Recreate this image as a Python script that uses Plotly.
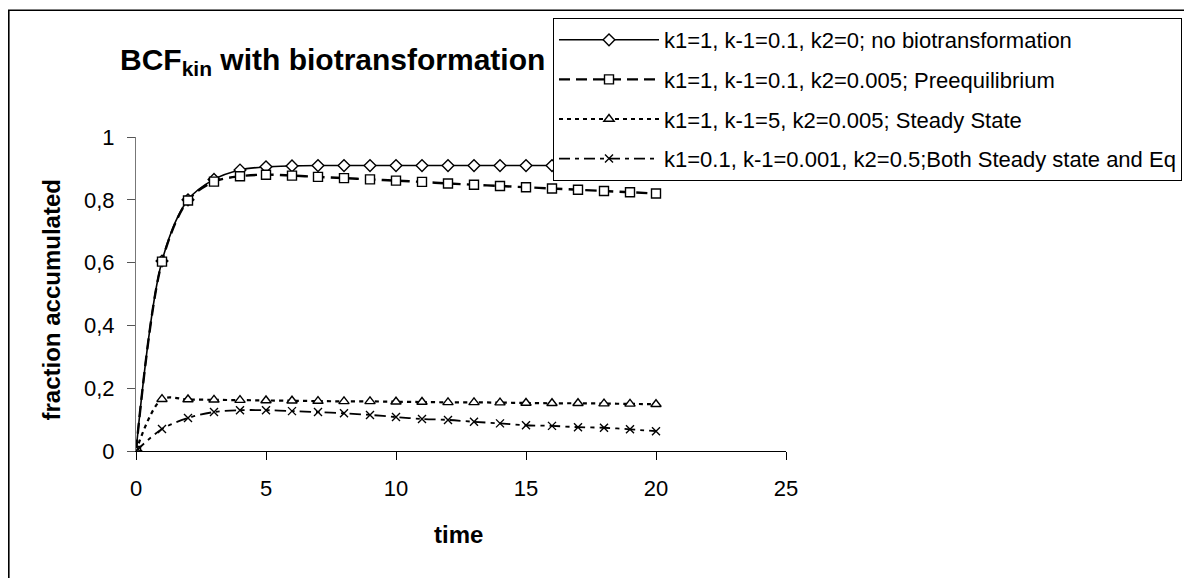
import plotly.graph_objects as go

time = list(range(0, 21))

s1_name = "k1=1, k-1=0.1, k2=0; no biotransformation"
s1 = [0, 0.605, 0.800, 0.865, 0.895, 0.905, 0.908, 0.909, 0.909, 0.909, 0.909,
      0.909, 0.909, 0.909, 0.909, 0.909, 0.909, 0.909, 0.909, 0.909, 0.909]

s2_name = "k1=1, k-1=0.1, k2=0.005; Preequilibrium"
s2 = [0, 0.603, 0.798, 0.858, 0.875, 0.880, 0.877, 0.873, 0.869, 0.865, 0.861,
      0.857, 0.852, 0.848, 0.844, 0.840, 0.836, 0.832, 0.828, 0.824, 0.820]

s3_name = "k1=1, k-1=5, k2=0.005; Steady State"
s3 = [0, 0.165, 0.164, 0.163, 0.162, 0.161, 0.160, 0.159, 0.158, 0.158, 0.157,
      0.156, 0.155, 0.155, 0.154, 0.153, 0.152, 0.152, 0.151, 0.150, 0.149]

s4_name = "k1=0.1, k-1=0.001, k2=0.5;Both Steady state and Eq"
s4 = [0, 0.070, 0.105, 0.124, 0.130, 0.130, 0.127, 0.124, 0.120, 0.115, 0.108,
      0.102, 0.099, 0.093, 0.088, 0.082, 0.080, 0.076, 0.074, 0.069, 0.063]

x_ticks = [0, 5, 10, 15, 20, 25]
y_ticks = [0, 0.2, 0.4, 0.6, 0.8, 1]

FONT = "Arial, 'Liberation Sans', sans-serif"

series = [
    (s1_name, s1, "solid", 1.6, "diamond", 9),
    (s2_name, s2, "11px,6px", 2.4, "square", 9),
    (s3_name, s3, "4px,4px", 2.2, "triangle-up", 9),
    (s4_name, s4, "11px,5px,4px,5px", 1.8, "x-thin", 8),
]

fig = go.Figure()
for i, (name, vals, dash, w, sym, size) in enumerate(series):
    fig.add_trace(go.Scatter(
        x=time, y=vals, name=name, mode="lines+markers",
        legendgroup=f"g{i}",
        line=dict(color="black", width=w, dash=dash, shape="spline", smoothing=0.9),
        marker=dict(symbol=sym, size=size, color="white",
                    line=dict(color="black", width=1.4)),
    ))

# plot area in figure pixels
L, X25, TOP, Y0 = 128, 778, 128, 443
W, H = X25 - L, Y0 - TOP


def px(fx):
    return (fx - L) / W


def py(fy):
    return (Y0 - fy) / H


fig.update_layout(
    width=1192, height=578,
    margin=dict(l=L, r=1192 - X25, t=TOP, b=578 - Y0),
    paper_bgcolor="white", plot_bgcolor="white",
    separators=", ",
    font=dict(family=FONT, color="black", size=22),
    showlegend=True,
    legend=dict(
        x=px(545), y=py(10), xanchor="left", yanchor="top",
        bgcolor="white", bordercolor="black", borderwidth=1,
        font=dict(family=FONT, size=22, color="black"),
        tracegroupgap=8, itemwidth=100,
    ),
    xaxis=dict(
        range=[0, 25], tickvals=x_ticks, showgrid=False, zeroline=False,
        showline=True, linecolor="black", linewidth=1.2,
        ticks="outside", ticklen=8, tickcolor="black",
        tickfont=dict(family=FONT, size=22), ticklabelstandoff=9,
    ),
    yaxis=dict(
        range=[0, 1], tickvals=y_ticks, showgrid=False, zeroline=False,
        showline=True, linecolor="#777777", linewidth=1.2,
        ticks="outside", ticklen=8, tickcolor="#555555",
        tickfont=dict(family=FONT, size=22), ticklabelstandoff=8,
    ),
)

fig.add_annotation(
    text="<b>fraction accumulated</b>", xref="paper", yref="paper",
    x=px(43), y=py(292), xanchor="center", yanchor="middle", textangle=-90,
    showarrow=False, font=dict(family=FONT, size=24),
)
fig.add_annotation(
    text="<b>time</b>", xref="paper", yref="paper",
    x=px(450), y=py(527), xanchor="center", yanchor="middle",
    showarrow=False, font=dict(family=FONT, size=24),
)
fig.add_annotation(
    text="<b>BCF<sub>kin</sub> with biotransformation</b>", xref="paper", yref="paper",
    x=px(110), y=py(52), xanchor="left", yanchor="middle",
    showarrow=False, font=dict(family=FONT, size=30),
)

fig.add_shape(
    type="rect", xref="paper", yref="paper",
    x0=px(0.8), x1=px(1400), y0=py(900), y1=py(0.8),
    line=dict(color="black", width=1.6), fillcolor="rgba(0,0,0,0)", layer="below",
)

fig.write_html("out.html")
